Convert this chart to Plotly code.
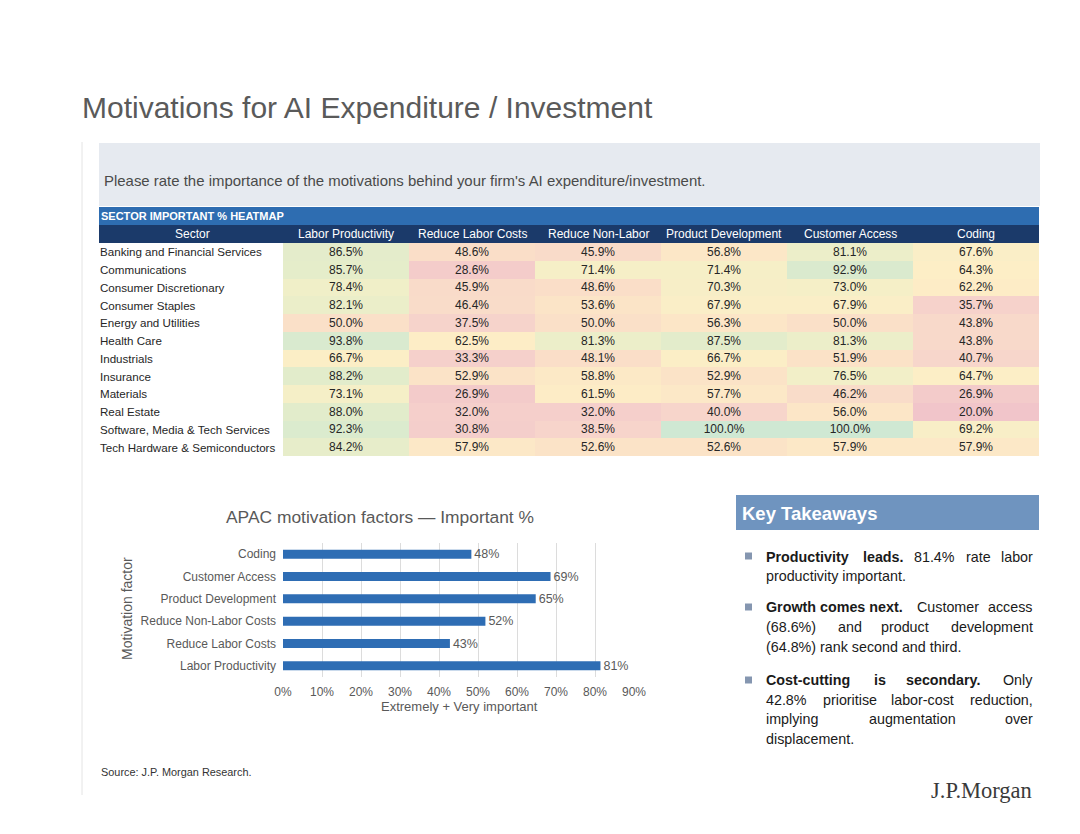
import plotly.graph_objects as go

W, H = 1080, 834


def px(x):
    return x / W


def py(y):
    return 1 - y / H


# ---------------- data ----------------
sectors = [
    "Banking and Financial Services", "Communications", "Consumer Discretionary",
    "Consumer Staples", "Energy and Utilities", "Health Care", "Industrials",
    "Insurance", "Materials", "Real Estate", "Software, Media & Tech Services",
    "Tech Hardware & Semiconductors",
]
motivations = ["Labor Productivity", "Reduce Labor Costs", "Reduce Non-Labor",
               "Product Development", "Customer Access", "Coding"]
labor_productivity = [86.5, 85.7, 78.4, 82.1, 50.0, 93.8, 66.7, 88.2, 73.1, 88.0, 92.3, 84.2]
reduce_labor_costs = [48.6, 28.6, 45.9, 46.4, 37.5, 62.5, 33.3, 52.9, 26.9, 32.0, 30.8, 57.9]
reduce_non_labor = [45.9, 71.4, 48.6, 53.6, 50.0, 81.3, 48.1, 58.8, 61.5, 32.0, 38.5, 52.6]
product_development = [56.8, 71.4, 70.3, 67.9, 56.3, 87.5, 66.7, 52.9, 57.7, 40.0, 100.0, 52.6]
customer_access = [81.1, 92.9, 73.0, 67.9, 50.0, 81.3, 51.9, 76.5, 46.2, 56.0, 100.0, 57.9]
coding = [67.6, 64.3, 62.2, 35.7, 43.8, 43.8, 40.7, 64.7, 26.9, 20.0, 69.2, 57.9]

factors = ["Labor Productivity", "Reduce Labor Costs", "Reduce Non-Labor Costs",
           "Product Development", "Customer Access", "Coding"]
apac_important = [81.4, 42.8, 51.9, 64.8, 68.6, 48.3]

columns = [labor_productivity, reduce_labor_costs, reduce_non_labor,
           product_development, customer_access, coding]
z = [[col[i] for col in columns] for i in range(len(sectors))]

FONT = "Liberation Sans, Arial, Helvetica, sans-serif"
GREY = "#595959"
DARK = "#262626"

fig = go.Figure()

# ---------------- heatmap ----------------
fig.add_trace(go.Heatmap(
    z=z, x=motivations, y=sectors,
    zmin=20, zmax=100,
    colorscale=[
        [0.0, "#F1C5CA"], [0.25, "#F7D5CB"], [0.4, "#FBE2C7"],
        [0.55, "#FDEEC6"], [0.72, "#F1EFC8"], [0.85, "#E2ECCB"], [1.0, "#CFE8D3"],
    ],
    showscale=False,
    texttemplate="%{z:.1f}%",
    textfont=dict(family=FONT, size=12, color=DARK),
    hoverinfo="skip",
    xaxis="x", yaxis="y",
))

# ---------------- bar chart ----------------
fig.add_trace(go.Bar(
    x=apac_important, y=factors, orientation="h",
    marker=dict(color="#2E6DB4", line=dict(width=0)),
    width=0.4,
    texttemplate="%{x:.0f}%", textposition="outside",
    textfont=dict(family=FONT, size=12.5, color=GREY),
    constraintext="none",
    cliponaxis=False,
    hoverinfo="skip",
    xaxis="x2", yaxis="y2",
))

shapes = [
    dict(type="line", xref="paper", yref="paper", x0=px(82), x1=px(82), y0=py(142), y1=py(795),
         line=dict(color="#E4E4E4", width=1)),
    dict(type="rect", xref="paper", yref="paper", x0=px(99), x1=px(1040), y0=py(206), y1=py(143),
         fillcolor="#E6EAF0", line=dict(width=0), layer="below"),
    dict(type="rect", xref="paper", yref="paper", x0=px(99), x1=px(1039), y0=py(225), y1=py(207),
         fillcolor="#2E6DB1", line=dict(width=0), layer="below"),
    dict(type="rect", xref="paper", yref="paper", x0=px(99), x1=px(1039), y0=py(243), y1=py(225),
         fillcolor="#1B3A6A", line=dict(width=0), layer="below"),
    dict(type="rect", xref="paper", yref="paper", x0=px(736), x1=px(1039), y0=py(530), y1=py(495),
         fillcolor="#6F94BF", line=dict(width=0), layer="below"),
]
for by in [556, 607, 680]:
    shapes.append(dict(type="rect", xref="paper", yref="paper",
                       x0=px(745), x1=px(752), y0=py(by + 3.5), y1=py(by - 3.5),
                       fillcolor="#8596B0", line=dict(width=0)))

ann = []


def text(x, y, s, size, color=GREY, xanchor="left", bold=False, family=FONT, **kw):
    ann.append(dict(xref="paper", yref="paper", x=px(x), y=py(y), text=(f"<b>{s}</b>" if bold else s),
                    showarrow=False, xanchor=xanchor, yanchor="middle",
                    font=dict(family=family, size=size, color=color), **kw))


text(80, 108, "Motivations for AI Expenditure / Investment", 30, color="#5A5A5A")
text(102, 180, "Please rate the importance of the motivations behind your firm's AI expenditure/investment.",
     14.95, color="#4A4A4A")
text(99, 216, "SECTOR IMPORTANT % HEATMAP", 11, color="white", bold=True)
text(192, 234, "Sector", 12, color="white", xanchor="center")
for m in motivations:
    ann.append(dict(xref="x", yref="paper", x=m, y=py(234), text=m, showarrow=False,
                    xanchor="center", yanchor="middle",
                    font=dict(family=FONT, size=12, color="white")))
for s in sectors:
    ann.append(dict(xref="paper", yref="y", x=px(98), y=s, text=s, showarrow=False,
                    xanchor="left", yanchor="middle",
                    font=dict(family=FONT, size=11.6, color=DARK)))

text(380, 517, "APAC motivation factors \u2014 Important %", 17.4, xanchor="center")
text(459, 706, "Extremely + Very important", 13, xanchor="center")
ann.append(dict(xref="paper", yref="paper", x=px(127), y=py(609), text="Motivation factor",
                showarrow=False, textangle=-90, xanchor="center", yanchor="middle",
                font=dict(family=FONT, size=14, color=GREY)))

text(740, 513, "Key Takeaways", 18.5, color="white", bold=True)
TK = 14.3
lines = [
    (557, [("<b>Productivity</b>", 764, "left"), ("<b>leads.</b>", 861, "left"),
           ("81.4%", 912, "left"), ("rate", 964, "left"), ("labor", 1035, "right")]),
    (576, [("productivity important.", 764, "left")]),
    (607, [("<b>Growth comes next.</b>", 764, "left"), ("Customer", 915, "left"), ("access", 1035, "right")]),
    (627, [("(68.6%)", 764, "left"), ("and", 836, "left"), ("product", 879, "left"),
           ("development", 1035, "right")]),
    (647, [("(64.8%) rank second and third.", 764, "left")]),
    (680, [("<b>Cost-cutting</b>", 764, "left"), ("<b>is</b>", 872, "left"),
           ("<b>secondary.</b>", 904, "left"), ("Only", 1035, "right")]),
    (700, [("42.8%", 764, "left"), ("prioritise", 821, "left"), ("labor-cost", 889, "left"),
           ("reduction,", 1035, "right")]),
    (719, [("implying", 764, "left"), ("augmentation", 867, "left"), ("over", 1035, "right")]),
    (739, [("displacement.", 764, "left")]),
]
for y, words in lines:
    for w, x, anc in words:
        text(x, y, w, TK, color="#1A1A1A", xanchor=anc)

text(99, 772, "Source: J.P. Morgan Research.", 10.9, color="#333333")
text(1034, 790, "J.P.Morgan", 22.5, color="#3A3A3A", xanchor="right",
     family="Liberation Serif, Times New Roman, serif")

fig.update_layout(
    width=W, height=H,
    margin=dict(l=0, r=0, t=0, b=0, pad=0, autoexpand=False),
    paper_bgcolor="white", plot_bgcolor="white",
    font=dict(family=FONT, color=GREY),
    showlegend=False,
    shapes=shapes,
    annotations=ann,
    xaxis=dict(domain=[px(283), px(1039)], showticklabels=False, ticks="", showgrid=False,
               zeroline=False, fixedrange=True, automargin=False),
    yaxis=dict(domain=[py(456), py(243)], autorange="reversed", showticklabels=False, ticks="",
               showgrid=False, zeroline=False, fixedrange=True, automargin=False),
    xaxis2=dict(domain=[px(283), px(634)], anchor="y2", range=[0, 90], dtick=10, ticksuffix="%",
                showgrid=True, gridcolor="#DCDCDC", gridwidth=1, zeroline=False, showline=False,
                ticklabelstandoff=6, automargin=False,
                tickfont=dict(family=FONT, size=12, color=GREY), ticks="", fixedrange=True),
    yaxis2=dict(domain=[py(677), py(543)], anchor="x2", showgrid=False, zeroline=False,
                showline=False, ticks="", ticklabelstandoff=6, automargin=False,
                tickfont=dict(family=FONT, size=12, color=GREY), fixedrange=True),
)

fig.write_html("out.html", config={"displayModeBar": False},
               post_script="document.body.style.margin='0';document.body.style.overflow='hidden';")
